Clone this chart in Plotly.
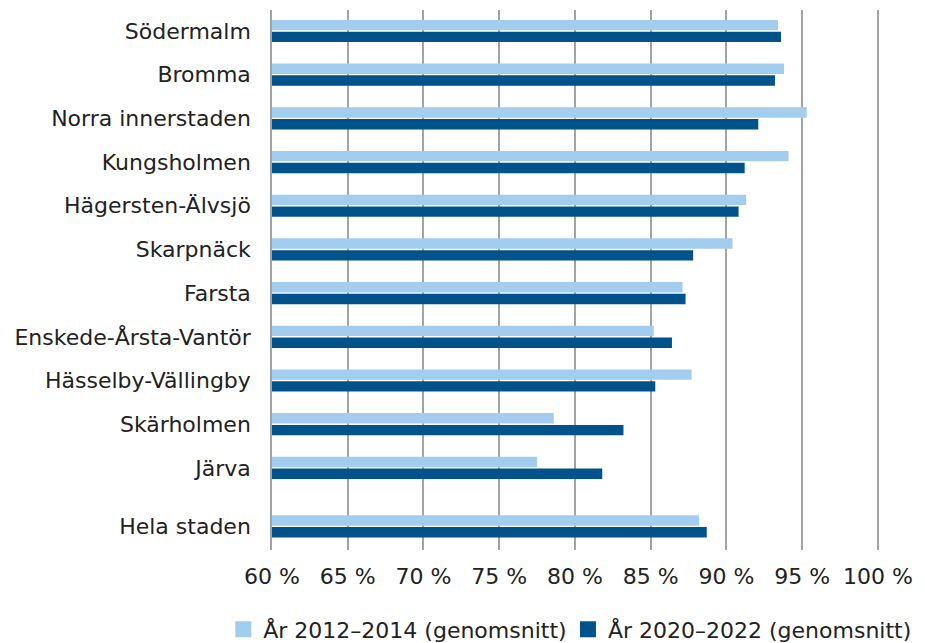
import plotly.graph_objects as go

categories = ["Södermalm", "Bromma", "Norra innerstaden", "Kungsholmen",
              "Hägersten-Älvsjö", "Skarpnäck", "Farsta", "Enskede-Årsta-Vantör",
              "Hässelby-Vällingby", "Skärholmen", "Järva", "Hela staden"]
values_2012_2014 = [93.4, 93.8, 95.3, 94.1, 91.3, 90.4, 87.1, 85.2, 87.7, 78.6, 77.5, 88.2]
values_2020_2022 = [93.6, 93.2, 92.1, 91.2, 90.8, 87.8, 87.3, 86.4, 85.3, 83.2, 81.8, 88.7]
series_names = ["År 2012–2014 (genomsnitt)", "År 2020–2022 (genomsnitt)"]
x_tick_values = [60, 65, 70, 75, 80, 85, 90, 95, 100]
x_tick_labels = ["60 %", "65 %", "70 %", "75 %", "80 %", "85 %", "90 %", "95 %", "100 %"]

# Category positions: evenly spaced, with an extra gap before the total row
gap_before_total = 0.34
y_pos = [i for i in range(len(categories) - 1)] + [len(categories) - 1 + gap_before_total]

FONT = "DejaVu Sans"
FS = 22
TXT = "#222222"
GRID = "#a3a3a3"
LIGHT = "#a3cdee"
DARK = "#00528a"

fig = go.Figure()
fig.add_trace(go.Bar(y=y_pos, x=values_2012_2014, orientation="h", name=series_names[0],
                     marker=dict(color=LIGHT, line=dict(width=0)), showlegend=False))
fig.add_trace(go.Bar(y=y_pos, x=values_2020_2022, orientation="h", name=series_names[1],
                     marker=dict(color=DARK, line=dict(width=0)), showlegend=False))
# legend-only entries with large square swatches, one legend box per series
for name, col, leg in zip(series_names, [LIGHT, DARK], ["legend", "legend2"]):
    fig.add_trace(go.Scatter(x=[None], y=[None], mode="markers", name=name, legend=leg,
                             marker=dict(symbol="square", size=17, color=col)))

legend_common = dict(orientation="h", yanchor="middle", y=-0.147, xanchor="left",
                     font=dict(size=FS, color=TXT), itemsizing="trace",
                     bgcolor="rgba(0,0,0,0)")

fig.update_layout(
    width=925, height=643,
    margin=dict(l=264, r=52, t=2, b=101, autoexpand=False),
    paper_bgcolor="white", plot_bgcolor="white",
    barmode="group", bargap=0.46, bargroupgap=0.12,
    font=dict(family=FONT, size=FS, color=TXT),
    showlegend=True,
    legend=dict(x=-0.08, **legend_common),
    legend2=dict(x=0.486, **legend_common),
    xaxis=dict(range=[60, 100.2], tickvals=x_tick_values, ticktext=x_tick_labels,
               showgrid=True, gridcolor=GRID, gridwidth=1.5, zeroline=False,
               ticks="", tickfont=dict(size=FS, color=TXT), showline=False,
               ticklabelstandoff=11, automargin=False, fixedrange=True),
    yaxis=dict(range=[y_pos[-1] + 0.54, -0.48], tickvals=y_pos, ticktext=categories,
               showgrid=False, zeroline=False, ticks="", showline=True,
               linecolor=GRID, linewidth=1.5, tickfont=dict(size=FS, color=TXT),
               ticklabelstandoff=15, automargin=False),
)

fig.write_html("out.html")
